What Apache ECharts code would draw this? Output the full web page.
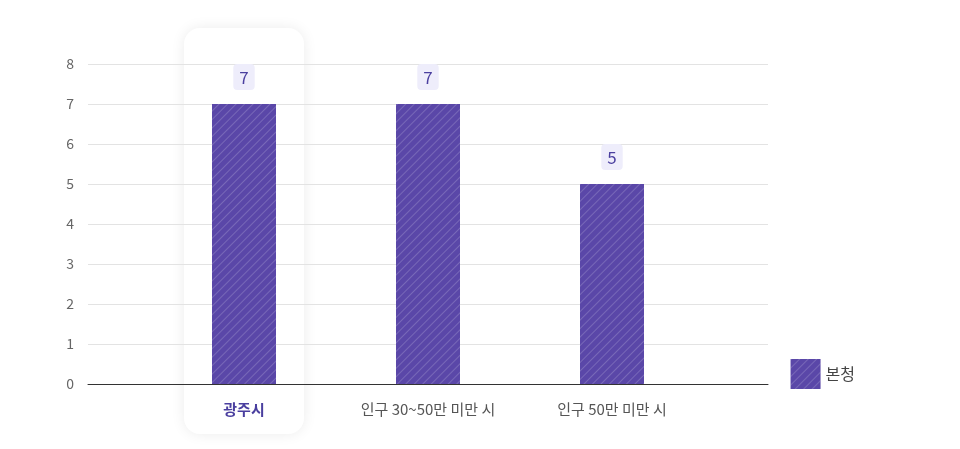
<!DOCTYPE html><html><head><meta charset="utf-8"><script src="https://cdn.jsdelivr.net/npm/echarts@6/dist/echarts.min.js"></script>
<style>body{margin:0}#c{width:960px;height:449px}</style></head><body><div id="c"></div><script>
const categories=['광주시','인구 30~50만 미만 시','인구 50만 미만 시'];
const values=[7,7,5];
const seriesName='본청';
const yTicks=[0,1,2,3,4,5,6,7,8];
const c=echarts.init(document.getElementById('c'));
const F='"Noto Sans CJK KR", "Noto Sans", sans-serif';
c.setOption({
 textStyle:{fontFamily:F},
 graphic:[{type:'rect',z:-10,shape:{x:184,y:28,width:120,height:406,r:16},style:{fill:'#fff',shadowBlur:14,shadowColor:'rgba(0,0,0,0.08)'}}],
 grid:[{left:88,right:192,top:64,bottom:65},{left:152,right:256,top:64,bottom:65}],
 legend:{right:100,top:354,itemWidth:30,itemHeight:30,icon:'rect',textStyle:{fontSize:16,color:'#444',fontFamily:F},data:[seriesName]},
 xAxis:[{gridIndex:0,type:'value',min:0,max:1,axisLine:{show:true,lineStyle:{color:'#333'}},axisLabel:{show:false},axisTick:{show:false},splitLine:{show:false}},
  {gridIndex:1,type:'category',data:categories,axisLine:{show:false},axisTick:{show:false},
   axisLabel:{margin:18,fontSize:15,color:'#555',fontFamily:F,formatter:(v,i)=>i===0?'{b|'+v+'}':v,rich:{b:{fontWeight:'bold',color:'#4a3f9f',fontSize:15,fontFamily:F}}}}],
 yAxis:[{gridIndex:0,type:'value',min:0,max:8,interval:1,axisLabel:{margin:14,color:'#666',fontSize:14,fontFamily:F},axisLine:{show:false},axisTick:{show:false},splitLine:{lineStyle:{color:'#e3e3e3'}}},
  {gridIndex:1,type:'value',min:0,max:8,interval:1,show:false}],
 series:[{name:seriesName,type:'bar',xAxisIndex:1,yAxisIndex:1,data:values,barWidth:64,
  itemStyle:{color:'#5a47a8',decal:{symbol:'rect',color:'rgba(255,255,255,0.18)',dashArrayX:[1,0],dashArrayY:[1,5],rotation:-Math.PI/4,symbolSize:1}},
  label:{show:true,position:'top',distance:14,color:'#4a3f9f',fontSize:17,fontFamily:F,backgroundColor:'#eeedfb',borderRadius:4,padding:[5,6,4,6]}}]
});
</script></body></html>
